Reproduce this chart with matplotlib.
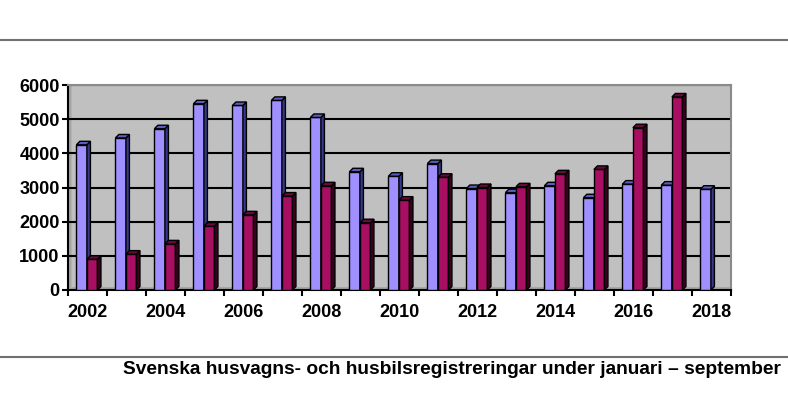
import matplotlib
matplotlib.use("Agg")
import matplotlib.pyplot as plt
from matplotlib.patches import Polygon
from matplotlib.lines import Line2D
import numpy as np

plt.rcParams['font.family'] = ['Liberation Sans', 'DejaVu Sans']

years = list(range(2002, 2019))
caravans = [4250, 4450, 4720, 5450, 5400, 5550, 5050, 3460, 3330, 3700,
            2970, 2850, 3050, 2700, 3100, 3070, 2950]
motorhomes = [900, 1050, 1350, 1870, 2200, 2750, 3050, 1970, 2630, 3300,
              3000, 3020, 3400, 3530, 4750, 5650, np.nan]
year_labels = [str(y) if y % 2 == 0 else '' for y in years]
caption = "Svenska husvagns- och husbilsregistreringar under januari \u2013 september"

W, H = 788, 413
fig = plt.figure(figsize=(W / 100, H / 100), dpi=100)
ax = fig.add_axes([68 / W, (H - 290) / H, (731 - 68) / W, (290 - 85) / H])

ax.set_xlim(-0.5, len(years) - 0.5)
ax.set_ylim(0, 6000)
ax.set_facecolor('#c0c0c0')

# depth of the fake 3d effect, in data units
px_x = (len(years)) / (731 - 68)
px_y = 6000 / (290 - 85)
dx, dy = 3.5 * px_x, 3.5 * px_y

# floor and left wall
x0, x1 = ax.get_xlim()
ax.add_patch(Polygon([(x0, 0), (x1, 0), (x1, dy), (x0 + dx, dy)],
                     closed=True, facecolor='#a6a6a6', edgecolor='none', zorder=0.5))
ax.add_patch(Polygon([(x0, 0), (x0 + dx, dy), (x0 + dx, 6000), (x0, 6000)],
                     closed=True, facecolor='#a6a6a6', edgecolor='none', zorder=0.5))

ax.yaxis.grid(True, color='black', linewidth=1.5)
ax.set_axisbelow(True)

w = 0.27
series = [(caravans, -0.15, '#a090ff', '#353a8c', '#5c5cc0'),
          (motorhomes, 0.12, '#a80f62', '#3a0020', '#6a0a3c')]

z = 3
for i in range(len(years)):
    for vals, off, front, side, top in series:
        v = vals[i]
        if np.isnan(v):
            continue
        xl = i + off - w / 2
        xr = i + off + w / 2
        ax.bar(i + off, v, width=w, color=front, edgecolor='black',
               linewidth=1, zorder=z)
        ax.add_patch(Polygon([(xr, 0), (xr + dx, dy), (xr + dx, v + dy), (xr, v)],
                             closed=True, facecolor=side, edgecolor='black',
                             linewidth=1, zorder=z))
        ax.add_patch(Polygon([(xl, v), (xr, v), (xr + dx, v + dy), (xl + dx, v + dy)],
                             closed=True, facecolor=top, edgecolor='black',
                             linewidth=1, zorder=z))
        z += 1

ax.set_yticks(range(0, 6001, 1000))
ax.set_xticks(range(len(years)))
ax.set_xticklabels(year_labels)
ax.set_xticks(np.arange(-0.5, len(years), 1), minor=True)
ax.tick_params(axis='x', which='major', length=0, pad=10)
ax.tick_params(axis='x', which='minor', length=4, width=1.5, direction='out')
ax.tick_params(axis='y', length=4, width=1.5, pad=2)
for lab in ax.get_xticklabels() + ax.get_yticklabels():
    lab.set_fontsize(13)
    lab.set_fontweight('bold')

for s in ['left', 'bottom']:
    ax.spines[s].set_color('black')
    ax.spines[s].set_linewidth(1.5)
for s in ['top', 'right']:
    ax.spines[s].set_color('#8a8a8a')
    ax.spines[s].set_linewidth(1.5)

fig.add_artist(Line2D([0, 1], [1 - 40 / H, 1 - 40 / H], color='#707070', linewidth=1.5))
fig.add_artist(Line2D([0, 1], [1 - 357 / H, 1 - 357 / H], color='#707070', linewidth=1.5))
fig.text(781 / W, 1 - 369 / H, caption, ha='right', va='center',
         fontsize=13.8, fontweight='bold')

fig.savefig('out.png', dpi=100)
